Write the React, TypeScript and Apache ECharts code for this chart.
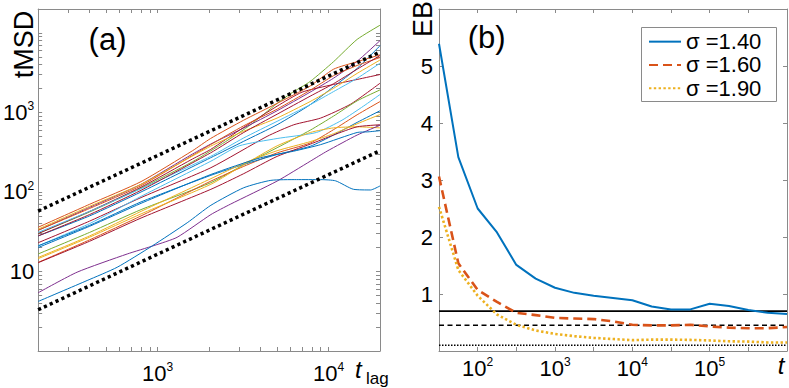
import React, { useEffect, useRef } from 'react';
import * as echarts from 'echarts';

const FONT = '"Liberation Sans", Arial, Helvetica, sans-serif';
const AXIS_GRAY = '#8a8a8a';
const C_BLUE = '#0072BD';
const C_ORANGE = '#D95319';
const C_YELLOW = '#EDB120';
const C_PURPLE = '#7E2F8E';
const C_GREEN = '#77AC30';
const C_LBLUE = '#4DBEEE';
const C_DRED = '#A2142F';

// ---------- Panel (a): tMSD vs t_lag (log-log) ----------
const tlagRange = [200, 20000];
const tmsdRange = [1, 20000];
const tlagTicks = [300, 400, 500, 600, 700, 800, 900, 1000, 2000, 3000, 4000, 5000, 6000, 7000, 8000, 9000, 10000];
const tlagLabels = [1000, 10000];
const tmsdTicks = [2, 3, 4, 5, 6, 7, 8, 9, 10, 20, 30, 40, 50, 60, 70, 80, 90, 100, 200, 300, 400, 500, 600, 700, 800, 900, 1000, 2000, 3000, 4000, 5000, 6000, 7000, 8000, 9000, 10000];
const tmsdLabels = [10, 100, 1000];
const boundUpper = [[200, 57.5], [20000, 5750]];
const boundLower = [[200, 3.3], [20000, 330]];

const traj01 = [[200, 30], [400, 56], [800, 112], [1600, 240], [2500, 430], [3500, 700], [5000, 1300], [6000, 1725], [7800, 2450], [10700, 4350], [14700, 8300], [20000, 12500]];
const traj02 = [[200, 33], [400, 64], [800, 125], [1600, 300], [2090, 410], [3200, 640], [5000, 1050], [7800, 1800], [10700, 2700], [14700, 4400], [20000, 8000]];
const traj03 = [[200, 28], [400, 50], [800, 100], [2040, 269], [3190, 434], [5000, 700], [7800, 1250], [10700, 2110], [14700, 3580], [20000, 6900]];
const traj04 = [[200, 36], [400, 70], [800, 135], [1600, 330], [2040, 470], [3190, 800], [5000, 1300], [7800, 2150], [10700, 3500], [14700, 4350], [20000, 5300]];
const traj05 = [[200, 30], [400, 57], [800, 115], [1600, 260], [2040, 342], [3190, 650], [5000, 1200], [7000, 1800], [10700, 2250], [14700, 2600], [20000, 3000]];
const traj06 = [[200, 33], [400, 62], [800, 120], [2040, 394], [3190, 680], [5000, 1100], [7800, 1900], [10700, 2900], [14700, 3900], [20000, 4900]];
const traj07 = [[200, 34], [400, 66], [800, 125], [2040, 376], [3190, 580], [5000, 850], [7800, 1370], [10700, 2010], [14700, 3100], [20000, 4560]];
const traj08 = [[200, 31], [400, 57], [800, 110], [2040, 280], [3190, 478], [5000, 773], [7800, 1250], [10700, 1830], [14700, 2690], [20000, 4160]];
const traj09 = [[200, 23], [400, 43], [800, 85], [2050, 202], [4370, 500], [6260, 700], [8990, 850], [13450, 1270], [20000, 2330]];
const traj10 = [[200, 16.6], [400, 31], [800, 60], [2050, 131], [3190, 220], [5000, 360], [7830, 600], [10700, 900], [14700, 1400], [20000, 1920]];
const traj11 = [[200, 21], [400, 40], [800, 88], [2050, 244], [3000, 380], [5000, 470], [8500, 560], [12000, 800], [16000, 1200], [20000, 1680]];
const traj12 = [[200, 13], [400, 25], [800, 50], [2050, 137], [3190, 210], [5000, 310], [7830, 414], [10700, 608], [14700, 935], [20000, 1370]];
const traj13 = [[200, 21], [400, 38], [800, 75], [2050, 162], [3190, 222], [5000, 296], [7830, 376], [10700, 520], [14700, 750], [20000, 1050]];
const traj14 = [[200, 15], [400, 28], [800, 57], [2050, 147], [3190, 230], [5000, 330], [7830, 430], [10700, 540], [14700, 720], [20000, 940]];
const traj15 = [[200, 14.5], [400, 27], [800, 53], [2050, 125], [3190, 220], [5000, 380], [7830, 560], [10700, 640], [14700, 660], [20000, 640]];
const traj16 = [[200, 12.9], [400, 24], [800, 47], [2050, 108], [3190, 170], [5000, 280], [7830, 400], [10700, 520], [14700, 660], [20000, 700]];
const traj17 = [[200, 5.4], [338, 9.8], [664, 16.6], [953, 21.2], [1300, 26.9], [2050, 52], [2660, 70], [5000, 137], [7830, 244], [9800, 326], [14700, 520], [20000, 690]];
const traj18 = [[200, 4.2], [387, 7.7], [580, 11.3], [931, 21], [1490, 41], [2050, 68], [3190, 113], [4600, 140], [6500, 143], [9000, 143], [11000, 138], [14000, 108], [17600, 106], [20000, 119]];
const traj19 = [[200, 20], [400, 37], [800, 72], [2050, 166], [4000, 269], [6260, 326], [8990, 394], [14700, 560], [17000, 570], [20000, 590]];
const traj20 = [[200, 28], [400, 52], [800, 105], [2040, 310], [3190, 560], [5000, 950], [7800, 1600], [10700, 2300], [14700, 3500], [20000, 5200]];

const trajectories = [traj01, traj02, traj03, traj04, traj05, traj06, traj07, traj08, traj09, traj10, traj11, traj12, traj13, traj14, traj15, traj16, traj17, traj18, traj19, traj20];
const trajColors = [C_GREEN, C_PURPLE, C_BLUE, C_ORANGE, C_DRED, C_ORANGE, C_YELLOW, C_LBLUE, C_DRED, C_GREEN, C_LBLUE, C_ORANGE, C_BLUE, C_YELLOW, C_YELLOW, C_DRED, C_PURPLE, C_BLUE, C_BLUE, C_DRED];

// ---------- Panel (b): EB vs t ----------
const tB = [31.62, 56.23, 100, 177.8, 316.2, 562.3, 1000, 1778, 3162, 5623, 10000, 17783, 31623, 56234, 100000, 177828, 316228, 562341, 1000000];
const eb140 = [5.39, 3.40, 2.50, 2.08, 1.51, 1.27, 1.11, 1.02, 0.97, 0.93, 0.89, 0.78, 0.73, 0.73, 0.83, 0.79, 0.72, 0.67, 0.65];
const eb160 = [3.06, 1.54, 1.07, 0.86, 0.67, 0.63, 0.58, 0.57, 0.56, 0.52, 0.46, 0.45, 0.45, 0.46, 0.43, 0.41, 0.40, 0.40, 0.42];
const eb190 = [2.53, 1.42, 0.97, 0.64, 0.46, 0.36, 0.30, 0.26, 0.23, 0.21, 0.19, 0.20, 0.20, 0.195, 0.185, 0.17, 0.165, 0.15, 0.15];
const sigmaNames = ['σ =1.40', 'σ =1.60', 'σ =1.90'];
const ebRefLevels = [0.7, 0.45, 0.1];
const tRangeB = [31.62, 1000000];
const tTicksB = [100, 316.2, 1000, 3162, 10000, 31623, 100000, 316228];
const tLabelsB = [100, 1000, 10000, 100000];
const ebRange = [0, 6];
const ebLabels = [1, 2, 3, 4, 5];

const rich = {
  b: { fontSize: 22, fontFamily: FONT, color: '#000', lineHeight: 24 },
  s: { fontSize: 12, fontFamily: FONT, color: '#000', lineHeight: 11, verticalAlign: 'top' },
};

function powLabel(shown: number[], plainTen: boolean) {
  return (v: number) => {
    const lv = Math.log10(v);
    const hit = shown.some((s) => Math.abs(Math.log10(s) - lv) < 1e-6);
    if (!hit) return '';
    const e = Math.round(lv);
    if (e === 1 && plainTen) return '{b|10}';
    return `{b|10}{s|${e}}`;
  };
}

function tickCfg(values: number[]) {
  return { show: true, inside: true, length: 4, customValues: values, lineStyle: { color: AXIS_GRAY, width: 1 } };
}
const axisLineCfg = { show: true, onZero: false, lineStyle: { color: AXIS_GRAY, width: 1 } };

export default function App() {
  const ref = useRef<HTMLDivElement>(null);
  useEffect(() => {
    if (!ref.current) return;
    const chart = echarts.init(ref.current, undefined, { renderer: 'svg' });

    const trajSeries = trajectories.map((d, i) => ({
      type: 'line',
      xAxisIndex: 0,
      yAxisIndex: 0,
      data: d,
      symbol: 'none',
      smooth: 0.2,
      silent: true,
      lineStyle: { color: trajColors[i], width: 1 },
      z: 2,
    }));
    const boundSeries = [boundUpper, boundLower].map((d) => ({
      type: 'line',
      xAxisIndex: 0,
      yAxisIndex: 0,
      data: d,
      symbol: 'none',
      silent: true,
      lineStyle: { color: '#000', width: 3.5, type: [3.2, 3.2], cap: 'butt' },
      z: 3,
    }));
    const refTypes: any[] = ['solid', [5, 3.5], [1.5, 1.5]];
    const refSeries = ebRefLevels.map((lvl, i) => ({
      type: 'line',
      xAxisIndex: 2,
      yAxisIndex: 2,
      data: [[tRangeB[0], lvl], [tRangeB[1], lvl]],
      symbol: 'none',
      silent: true,
      lineStyle: { color: '#000', width: i === 0 ? 1.8 : 1.5, type: refTypes[i] },
      z: 2,
    }));
    const ebSets = [eb140, eb160, eb190];
    const ebColors = [C_BLUE, C_ORANGE, C_YELLOW];
    const ebTypes: any[] = ['solid', [9, 5], [2.4, 2.4]];
    const ebWidths = [2, 2.6, 2.6];
    const ebSeries = ebSets.map((vals, i) => ({
      type: 'line',
      name: sigmaNames[i],
      xAxisIndex: 2,
      yAxisIndex: 2,
      data: tB.map((t, k) => [t, vals[k]]),
      symbol: 'none',
      silent: true,
      itemStyle: { color: ebColors[i] },
      lineStyle: { color: ebColors[i], width: ebWidths[i], type: ebTypes[i] },
      z: 3,
    }));

    const option: any = {
      animation: false,
      backgroundColor: '#fff',
      grid: [
        { left: 37, top: 9, width: 343, height: 342, containLabel: false },
        { left: 439, top: 9, width: 348, height: 342, containLabel: false },
      ],
      xAxis: [
        {
          type: 'log', gridIndex: 0, position: 'bottom', min: tlagRange[0], max: tlagRange[1], logBase: 10,
          axisLine: axisLineCfg, axisTick: tickCfg(tlagTicks), splitLine: { show: false }, minorTick: { show: false },
          axisLabel: { show: true, margin: 10, formatter: powLabel(tlagLabels, false), customValues: tlagLabels, rich, hideOverlap: false },
        },
        {
          type: 'log', gridIndex: 0, position: 'top', min: tlagRange[0], max: tlagRange[1], logBase: 10,
          axisLine: axisLineCfg, axisTick: tickCfg(tlagTicks), splitLine: { show: false }, axisLabel: { show: false },
        },
        {
          type: 'log', gridIndex: 1, position: 'bottom', min: tRangeB[0], max: tRangeB[1], logBase: 10,
          axisLine: axisLineCfg, axisTick: tickCfg(tTicksB), splitLine: { show: false },
          axisLabel: { show: true, margin: 5, formatter: powLabel(tLabelsB, false), customValues: tLabelsB, rich, hideOverlap: false },
        },
        {
          type: 'log', gridIndex: 1, position: 'top', min: tRangeB[0], max: tRangeB[1], logBase: 10,
          axisLine: axisLineCfg, axisTick: tickCfg(tTicksB), splitLine: { show: false }, axisLabel: { show: false },
        },
      ],
      yAxis: [
        {
          type: 'log', gridIndex: 0, position: 'left', min: tmsdRange[0], max: tmsdRange[1], logBase: 10,
          axisLine: axisLineCfg, axisTick: tickCfg(tmsdTicks), splitLine: { show: false },
          axisLabel: { show: true, margin: 4, formatter: powLabel(tmsdLabels, true), customValues: tmsdLabels, rich, hideOverlap: false },
        },
        {
          type: 'log', gridIndex: 0, position: 'right', min: tmsdRange[0], max: tmsdRange[1], logBase: 10,
          axisLine: axisLineCfg, axisTick: tickCfg(tmsdTicks), splitLine: { show: false }, axisLabel: { show: false },
        },
        {
          type: 'value', gridIndex: 1, position: 'left', min: ebRange[0], max: ebRange[1], interval: 1,
          axisLine: axisLineCfg, axisTick: { show: true, inside: true, length: 4, lineStyle: { color: AXIS_GRAY } }, splitLine: { show: false },
          axisLabel: {
            show: true, margin: 6, fontSize: 22, fontFamily: FONT, color: '#000',
            formatter: (v: number) => (ebLabels.indexOf(v) >= 0 ? String(v) : ''),
          },
        },
        {
          type: 'value', gridIndex: 1, position: 'right', min: ebRange[0], max: ebRange[1], interval: 1,
          axisLine: axisLineCfg, axisTick: { show: true, inside: true, length: 4, lineStyle: { color: AXIS_GRAY } }, splitLine: { show: false },
          axisLabel: { show: false },
        },
      ],
      legend: {
        show: true,
        data: sigmaNames,
        orient: 'vertical',
        left: 648,
        top: 30,
        padding: 0,
        itemGap: 0,
        itemWidth: 32,
        itemHeight: 14,
        selectedMode: false,
        itemStyle: { opacity: 0, color: 'rgba(0,0,0,0)', borderWidth: 0 },
        textStyle: { fontSize: 22, fontFamily: FONT, color: '#000', lineHeight: 23.3 },
      },
      graphic: [
        { type: 'rect', z: 1, shape: { x: 641.5, y: 27.5, width: 135, height: 74 }, style: { fill: '#fff', stroke: AXIS_GRAY, lineWidth: 1 } },
        { type: 'text', x: 24, y: 44.5, rotation: Math.PI / 2, style: { text: 'tMSD', font: `27px ${FONT}`, fill: '#000', align: 'center', verticalAlign: 'middle' } },
        { type: 'text', x: 107.5, y: 39, style: { text: '(a)', font: `31px ${FONT}`, fill: '#000', align: 'center', verticalAlign: 'middle' } },
        { type: 'text', x: 423, y: 19, rotation: Math.PI / 2, style: { text: 'EB', font: `27px ${FONT}`, fill: '#000', align: 'center', verticalAlign: 'middle' } },
        { type: 'text', x: 486.7, y: 37.7, style: { text: '(b)', font: `31px ${FONT}`, fill: '#000', align: 'center', verticalAlign: 'middle' } },
        { type: 'text', x: 355, y: 369, style: { text: 't', font: `italic 24px ${FONT}`, fill: '#000', align: 'left', verticalAlign: 'middle' } },
        { type: 'text', x: 366, y: 378, style: { text: 'lag', font: `17px ${FONT}`, fill: '#000', align: 'left', verticalAlign: 'middle' } },
        { type: 'text', x: 781, y: 365, style: { text: 't', font: `italic 24px ${FONT}`, fill: '#000', align: 'center', verticalAlign: 'middle' } },
      ],
      series: [...trajSeries, ...boundSeries, ...refSeries, ...ebSeries],
    };
    chart.setOption(option);
    return () => chart.dispose();
  }, []);

  return (
    <div
      ref={ref}
      style={{ position: 'absolute', left: 0, top: 0, width: 789, height: 388, background: '#fff' }}
    />
  );
}
